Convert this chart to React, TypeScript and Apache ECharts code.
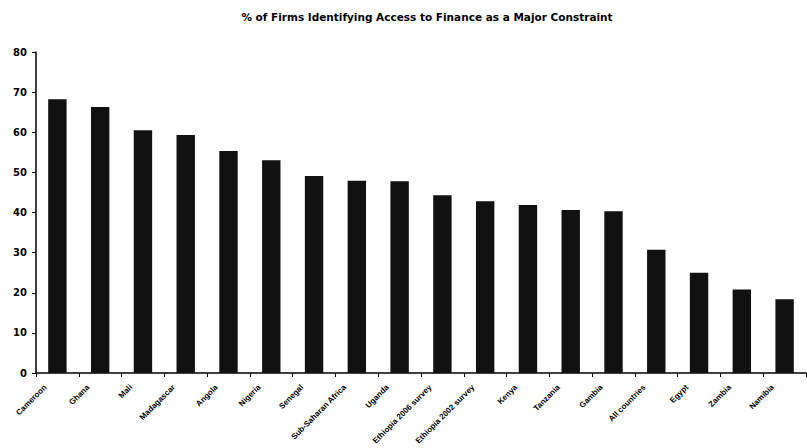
import React, { useEffect, useRef } from "react";
import * as echarts from "echarts";

const categories = [
  "Cameroon",
  "Ghana",
  "Mali",
  "Madagascar",
  "Angola",
  "Nigeria",
  "Senegal",
  "Sub-Saharan Africa",
  "Uganda",
  "Ethiopia 2006 survey",
  "Ethiopia 2002 survey",
  "Kenya",
  "Tanzania",
  "Gambia",
  "All countries",
  "Egypt",
  "Zambia",
  "Namibia",
];

const shareOfFirms = [
  68.2, 66.3, 60.5, 59.3, 55.3, 53.0, 49.1, 47.9, 47.8, 44.3, 42.8, 41.9, 40.6,
  40.3, 30.7, 25.0, 20.8, 18.4,
];

const yTicks = { min: 0, max: 80, interval: 10 };

const chartTitle = "% of Firms Identifying Access to Finance as a Major Constraint";

export default function App() {
  const ref = useRef<HTMLDivElement>(null);

  useEffect(() => {
    if (!ref.current) return;
    const chart = echarts.init(ref.current, null, { renderer: "svg" });
    chart.setOption({
      animation: false,
      backgroundColor: "#ffffff",
      title: {
        text: chartTitle,
        left: 422,
        top: 6,
        textAlign: "center",
        textStyle: {
          fontFamily: "DejaVu Sans",
          fontSize: 10.5,
          fontWeight: 900,
          color: "#000",
        },
      },
      grid: {
        left: 36,
        right: 1,
        top: 52,
        bottom: 75,
        containLabel: false,
        outerBoundsMode: "none",
      },
      xAxis: {
        type: "category",
        data: categories,
        boundaryGap: true,
        axisLine: { lineStyle: { color: "#000", width: 1.5 } },
        axisTick: { show: true, length: 4, lineStyle: { color: "#000" } },
        axisLabel: {
          rotate: 45,
          interval: 0,
          margin: 1,
          padding: [0, 17, 0, 0],
          fontFamily: "Liberation Sans",
          fontSize: 8,
          fontWeight: "bold",
          color: "#000",
        },
      },
      yAxis: {
        type: "value",
        min: yTicks.min,
        max: yTicks.max,
        interval: yTicks.interval,
        splitLine: { show: false },
        axisLine: { show: true, lineStyle: { color: "#000", width: 1.5 } },
        axisTick: { show: true, length: 4, lineStyle: { color: "#000" } },
        axisLabel: {
          margin: 9,
          fontFamily: "DejaVu Sans",
          fontSize: 10,
          fontWeight: "bold",
          color: "#000",
        },
      },
      series: [
        {
          type: "bar",
          data: shareOfFirms,
          barWidth: "43%",
          itemStyle: { color: "#111111" },
        },
      ],
    });
    return () => chart.dispose();
  }, []);

  return (
    <div
      ref={ref}
      style={{ position: "absolute", left: 0, top: 0, width: 807, height: 448 }}
    />
  );
}
